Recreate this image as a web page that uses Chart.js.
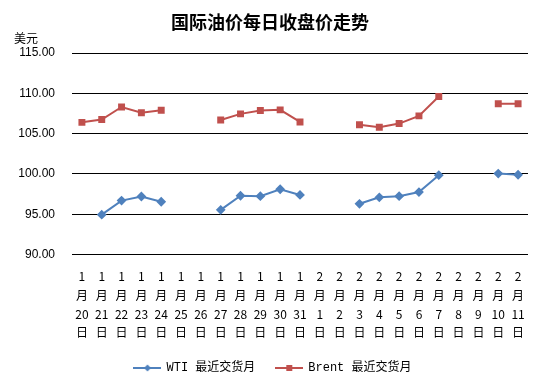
<!DOCTYPE html>
<html>
<head>
<meta charset="utf-8">
<script src="https://cdn.jsdelivr.net/npm/chart.js@4/dist/chart.umd.min.js"></script>
<style>
  html, body { margin: 0; padding: 0; background: #fff; }
  #wrap { width: 544px; height: 384px; }
</style>
</head>
<body>
<div id="wrap"><canvas id="c"></canvas></div>
<script>
// 日期 (月, 日)
const months = [1,1,1,1,1,1,1,1,1,1,1,1,2,2,2,2,2,2,2,2,2,2,2];
const days = [20,21,22,23,24,25,26,27,28,29,30,31,1,2,3,4,5,6,7,8,9,10,11];
const labels = months.map((m, i) => [String(m), '月', String(days[i]), '日']);

const wti = [null, 94.95, 96.7, 97.2, 96.55, null, null, 95.55, 97.3, 97.25, 98.1, 97.4,
             null, null, 96.3, 97.1, 97.25, 97.75, 99.85, null, null, 100.05, 99.9];
const brent = [106.4, 106.75, 108.3, 107.6, 107.9, null, null, 106.7, 107.45, 107.87, 107.95, 106.45,
               null, null, 106.1, 105.8, 106.25, 107.2, 109.6, null, null, 108.7, 108.7];

const yMin = 90, yMax = 115, yStep = 5;

const WTI_COLOR = '#4F81BD';
const BRENT_COLOR = '#C0504D';

// legend swatch: short line with the marker in the middle
function swatch(color, shape) {
    const cv = document.createElement('canvas');
    cv.width = 28; cv.height = 10;
    const ctx = cv.getContext('2d');
    ctx.strokeStyle = color;
    ctx.lineWidth = 2;
    ctx.beginPath();
    ctx.moveTo(0, 5); ctx.lineTo(28, 5);
    ctx.stroke();
    ctx.fillStyle = color;
    if (shape === 'rect') {
        ctx.fillRect(11, 2, 6, 6);
    } else {
        ctx.beginPath();
        ctx.moveTo(14, 1.5); ctx.lineTo(17.5, 5); ctx.lineTo(14, 8.5); ctx.lineTo(10.5, 5);
        ctx.closePath(); ctx.fill();
    }
    return cv;
}

const textPlugin = {
    id: 'texts',
    afterDraw(chart) {
        const ctx = chart.ctx;
        ctx.save();
        ctx.fillStyle = '#000';
        ctx.textAlign = 'center';
        ctx.textBaseline = 'middle';
        ctx.font = 'bold 18px "Noto Sans CJK SC", sans-serif';
        ctx.fillText('国际油价每日收盘价走势', 270, 22);
        ctx.font = '12px "Noto Sans CJK SC", sans-serif';
        ctx.textAlign = 'left';
        ctx.fillText('美元', 14, 38);
        ctx.restore();
    }
};

new Chart(document.getElementById('c'), {
    type: 'line',
    data: {
        labels: labels,
        datasets: [{
            label: 'WTI 最近交货月',
            data: wti,
            borderColor: WTI_COLOR,
            backgroundColor: WTI_COLOR,
            borderWidth: 2,
            pointStyle: 'rectRot',
            pointRadius: 3.5,
            pointHoverRadius: 3.5,
            tension: 0,
            spanGaps: false
        }, {
            label: 'Brent 最近交货月',
            data: brent,
            borderColor: BRENT_COLOR,
            backgroundColor: BRENT_COLOR,
            borderWidth: 2,
            pointStyle: 'rect',
            pointRadius: 3.5,
            pointHoverRadius: 3.5,
            tension: 0,
            spanGaps: false
        }]
    },
    options: {
        responsive: true,
        maintainAspectRatio: false,
        animation: false,
        layout: { padding: { top: 53, right: 16, left: 18, bottom: 0 } },
        plugins: {
            title: { display: false },
            tooltip: { enabled: false },
            legend: {
                position: 'bottom',
                labels: {
                    usePointStyle: true,
                    pointStyleWidth: 26,
                    color: '#000',
                    padding: 21,
                    font: { size: 12, family: '"Liberation Mono", "Noto Sans CJK SC", monospace' },
                    generateLabels(chart) {
                        return chart.data.datasets.map((ds, i) => ({
                            text: ds.label,
                            pointStyle: swatch(ds.borderColor, i === 0 ? 'diamond' : 'rect'),
                            fillStyle: ds.borderColor,
                            strokeStyle: ds.borderColor,
                            lineWidth: 0,
                            fontColor: '#000',
                            datasetIndex: i,
                            hidden: false
                        }));
                    }
                }
            }
        },
        scales: {
            x: {
                offset: true,
                grid: { display: false, offset: true },
                border: { display: false },
                afterFit(scale) { scale.height -= 6; },
                ticks: {
                    color: '#000',
                    maxRotation: 0,
                    autoSkip: false,
                    padding: 5,
                    font: { size: 12, family: '"Noto Sans CJK SC", "Liberation Sans", sans-serif', lineHeight: 1.55 }
                }
            },
            y: {
                min: yMin,
                max: yMax,
                border: { display: false },
                grid: { color: '#000', lineWidth: 1, drawTicks: false },
                afterFit(scale) { scale.width = 54; },
                ticks: {
                    stepSize: yStep,
                    color: '#000',
                    padding: 17,
                    font: { size: 12, family: '"Liberation Sans", Arial, sans-serif' },
                    callback: v => v.toFixed(2)
                }
            }
        }
    },
    plugins: [textPlugin]
});
</script>
</body>
</html>
